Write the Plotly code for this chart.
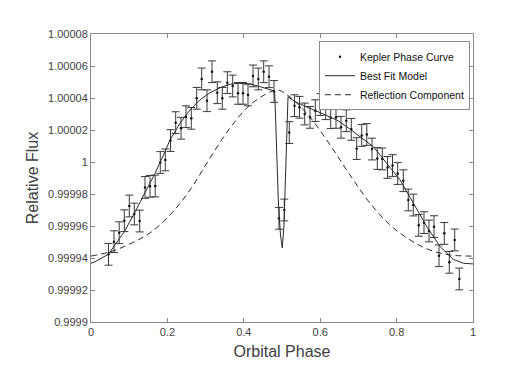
import plotly.graph_objects as go

# Kepler phase-folded data
fase = [0.0458, 0.0602, 0.0738, 0.0872, 0.1003, 0.1134, 0.1275, 0.1414, 0.1545, 0.1681,
        0.1814, 0.1945, 0.2081, 0.2217, 0.2356, 0.2487, 0.2626, 0.2767, 0.2898, 0.3037,
        0.3168, 0.3306, 0.3437, 0.3568, 0.3709, 0.3848, 0.3979, 0.4110, 0.4241, 0.4380,
        0.4521, 0.4660, 0.4791, 0.4921, 0.5060, 0.5191, 0.5327, 0.5458, 0.5594, 0.5733,
        0.5872, 0.6003, 0.6144, 0.6275, 0.6414, 0.6545, 0.6683, 0.6814, 0.6955, 0.7086,
        0.7220, 0.7356, 0.7495, 0.7626, 0.7762, 0.7893, 0.8029, 0.8175, 0.8306, 0.8437,
        0.8579, 0.8717, 0.8848, 0.8979, 0.9110, 0.9249, 0.9380, 0.9521, 0.9641]
fluxo = [0.9999423, 0.9999502, 0.9999558, 0.9999633, 0.9999725, 0.9999675, 0.9999631,
         0.9999841, 0.9999848, 0.9999850, 0.9999997, 1.0000013, 1.0000134, 1.0000246,
         1.0000211, 1.0000283, 1.0000273, 1.0000398, 1.0000519, 1.0000383, 1.0000564,
         1.0000433, 1.0000398, 1.0000496, 1.0000475, 1.0000429, 1.0000429, 1.0000419,
         1.0000538, 1.0000519, 1.0000564, 1.0000533, 1.0000441, 0.9999648, 0.9999700,
         1.0000184, 1.0000352, 1.0000342, 1.0000300, 1.0000279, 1.0000321, 1.0000359,
         1.0000333, 1.0000277, 1.0000279, 1.0000217, 1.0000258, 1.0000204, 1.0000084,
         1.0000166, 1.0000172, 1.0000081, 1.0000022, 1.0000019, 0.9999966, 0.9999978,
         0.9999928, 0.9999883, 0.9999763, 0.9999731, 0.9999604, 0.9999621, 0.9999569,
         0.9999596, 0.9999414, 0.9999554, 0.9999373, 0.9999513, 0.9999269]
erro = 6.8e-6

# Best fit model
fase_modelo = [0.0, 0.0105, 0.0453, 0.0602, 0.0872, 0.1134, 0.1414, 0.1675, 0.1937, 0.2068,
               0.233, 0.259, 0.285, 0.3115, 0.3377, 0.364, 0.3857, 0.416, 0.442, 0.4686,
               0.4804, 0.4817, 0.4903, 0.496, 0.5008, 0.5052, 0.507, 0.5123, 0.5157,
               0.534, 0.560, 0.586, 0.608, 0.643, 0.669, 0.704, 0.739, 0.774, 0.809,
               0.844, 0.879, 0.914, 0.948, 0.975, 1.0]
fluxo_modelo = [0.9999367, 0.9999377, 0.9999423, 0.9999471, 0.9999564, 0.9999679, 0.9999804,
                0.9999929, 1.0000064, 1.0000138, 1.0000242, 1.0000325, 1.0000388, 1.0000433,
                1.0000464, 1.0000486, 1.0000492, 1.0000488, 1.0000471, 1.0000450,
                1.0000444, 1.0000388, 0.9999763, 0.9999544, 0.9999463, 0.9999606, 0.9999763,
                1.0000181, 1.0000408,
                1.0000377, 1.0000350, 1.0000325, 1.0000298, 1.0000263, 1.0000221, 1.0000158,
                1.0000096, 0.9999992, 0.9999888, 0.9999742, 0.9999596, 0.9999471, 0.9999392,
                0.9999367, 0.9999363]

# Reflection component
fase_reflexao = [0.0, 0.052, 0.102, 0.154, 0.207, 0.259, 0.3115, 0.364, 0.416, 0.469,
                 0.49, 0.521, 0.573, 0.626, 0.678, 0.730, 0.783, 0.835, 0.887, 0.940, 1.0]
fluxo_reflexao = [0.9999412, 0.9999440, 0.9999488, 0.9999556, 0.9999669, 0.9999825,
                  1.0000025, 1.0000213, 1.0000356, 1.0000438, 1.0000450, 1.0000406,
                  1.0000281, 1.0000106, 0.9999919, 0.9999744, 0.9999606, 0.9999513,
                  0.9999450, 0.9999419, 0.9999412]

ytick_vals = [0.9999, 0.99992, 0.99994, 0.99996, 0.99998, 1.0,
              1.00002, 1.00004, 1.00006, 1.00008]
ytick_text = ["0.9999", "0.99992", "0.99994", "0.99996", "0.99998", "1",
              "1.00002", "1.00004", "1.00006", "1.00008"]

fig = go.Figure()

fig.add_trace(
    go.Scatter(
        x=fase,
        y=fluxo,
        mode="markers",
        name="Kepler Phase Curve",
        marker=dict(color="#111111", size=2.5),
        error_y=dict(type="constant", value=erro, color="#3a3a3a", thickness=1, width=4),
    )
)

fig.add_trace(
    go.Scatter(
        x=fase_modelo,
        y=fluxo_modelo,
        mode="lines",
        name="Best Fit Model",
        line=dict(color="#2a2a2a", width=1),
    )
)

fig.add_trace(
    go.Scatter(
        x=fase_reflexao,
        y=fluxo_reflexao,
        mode="lines",
        name="Reflection Component",
        line=dict(color="#2a2a2a", width=1, dash="6px,4px", shape="spline"),
    )
)

eixo = dict(
    showline=True,
    linecolor="#8a8a8a",
    linewidth=1,
    mirror="ticks",
    ticks="inside",
    ticklen=4,
    tickcolor="#8a8a8a",
    showgrid=False,
    zeroline=False,
    automargin=False,
    tickfont=dict(size=11, color="#404040"),
)

# a pagina html tem margem de 8px no body, por isso a figura e um pouco menor
fig.update_layout(
    width=497,
    height=364,
    margin=dict(l=83, r=32, t=26, b=50),
    paper_bgcolor="white",
    plot_bgcolor="white",
    font=dict(family="Liberation Sans, Arial, sans-serif", color="#404040"),
    xaxis=dict(
        eixo,
        range=[0, 1],
        tickvals=[0, 0.2, 0.4, 0.6, 0.8, 1],
        ticktext=["0", "0.2", "0.4", "0.6", "0.8", "1"],
        title=dict(text="Orbital Phase", font=dict(size=16), standoff=8),
    ),
    yaxis=dict(
        eixo,
        range=[0.9999, 1.00008],
        tickvals=ytick_vals,
        ticktext=ytick_text,
        title=dict(text="Relative Flux", font=dict(size=16), standoff=5),
    ),
    legend=dict(
        x=0.992,
        y=0.975,
        xanchor="right",
        yanchor="top",
        bgcolor="white",
        bordercolor="#8a8a8a",
        borderwidth=1,
        font=dict(size=10.5, color="#111111"),
        tracegroupgap=0,
        itemwidth=30,
    ),
    showlegend=True,
)

fig.write_html("out.html")
